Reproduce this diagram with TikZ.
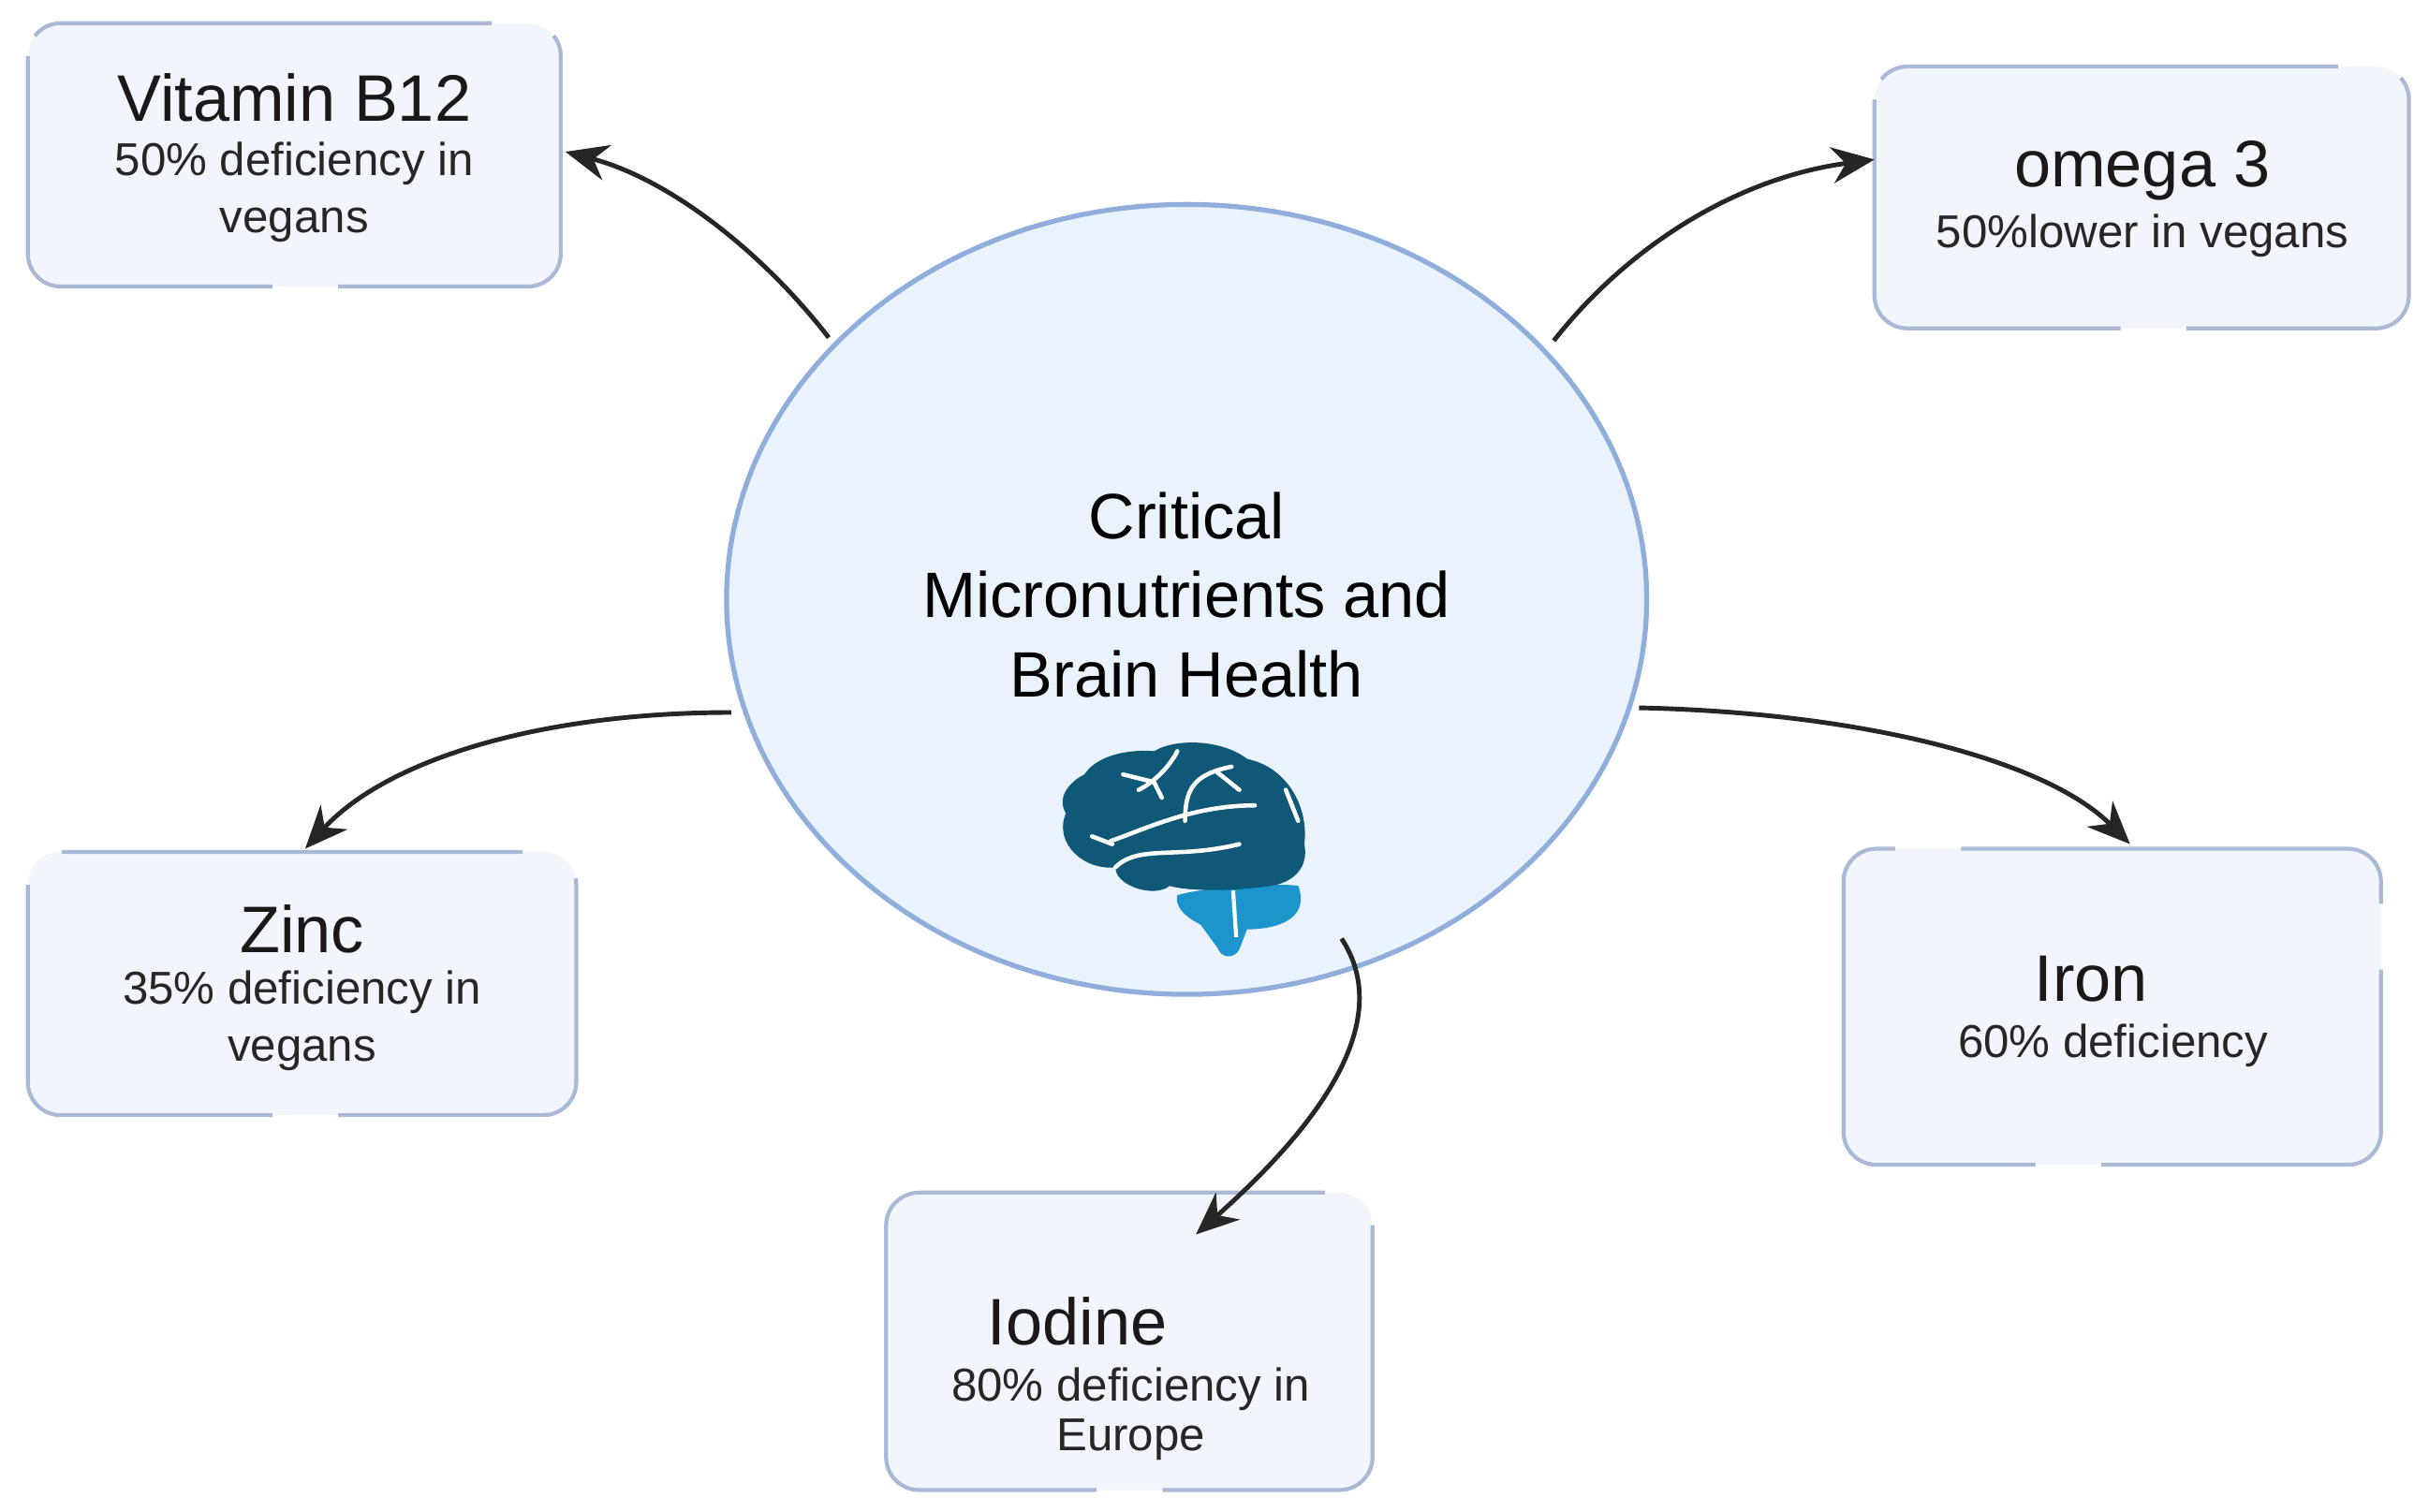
\documentclass[tikz,border=0pt]{standalone}
\usepackage{fontspec}
\setmainfont{Liberation Sans}
\usetikzlibrary{arrows.meta}
\definecolor{boxfill}{HTML}{F2F5FB}
\definecolor{boxline}{HTML}{A9B9D6}
\definecolor{ellfill}{HTML}{EAF2FC}
\definecolor{ellline}{HTML}{8FAEDB}
\definecolor{braind}{HTML}{0F5878}
\definecolor{brainl}{HTML}{1C95CD}
\begin{document}
\begin{tikzpicture}[x=0.016543cm,y=-0.016543cm,
  box/.style={draw=boxline,line width=1.2pt,fill=boxfill,rounded corners=10pt,dash pattern=on 140pt off 20pt},
  ttl/.style={font=\fontsize{20}{24}\selectfont,text=black!90},
  sub/.style={font=\fontsize{14}{17.5}\selectfont,text=black!85,align=center},
  arr/.style={-{Stealth[length=13pt,width=11pt]},line width=1.4pt,draw=black!85}]
\useasboundingbox (0,0) rectangle (1568,976);
% boxes
\path[box] (18,15) rectangle (362,185);
\path[box] (1210,43) rectangle (1555,212);
\path[box] (18,550) rectangle (372,720);
\path[box] (1190,548) rectangle (1537,752);
\path[box] (572,770) rectangle (886,962);
% ellipse
\draw[ellline,fill=ellfill,line width=1.5pt] (766,387) ellipse [x radius=297,y radius=255];
\node[font=\fontsize{19.5}{24}\selectfont,align=center] (c) at (766,384) {Critical\\Micronutrients and\\Brain Health};
% texts
\node[ttl] (b12) at (190,63) {Vitamin B12};
\node[sub] (b12s) at (190,124) {50\% deficiency in\\vegans};
\node[ttl] (om) at (1383,110) {omega 3};
\node[sub] (oms) at (1383,152) {50\%lower in vegans};
\node[ttl] (zn) at (195,600) {Zinc};
\node[sub] (zns) at (195,659) {35\% deficiency in\\vegans};
\node[ttl] (fe) at (1350,632) {Iron};
\node[sub] (fes) at (1364,675) {60\% deficiency};
\node[ttl,anchor=west] (io) at (630,853) {Iodine};
\node[sub,font=\fontsize{14}{15}\selectfont] (ios) at (730,913) {80\% deficiency in\\Europe};
% connectors
\coordinate (a1) at (535,218); \coordinate (e1) at (365,98);
\coordinate (a2) at (1003,220); \coordinate (e2) at (1210,103);
\coordinate (a3) at (472,460); \coordinate (e3) at (197,548);
\coordinate (a4) at (1058,457); \coordinate (e4) at (1375,545);
\coordinate (a5) at (866,606); \coordinate (e5) at (772,797);
\draw[arr] (a1) .. controls (490,160) and (430,115) .. (e1);
\draw[arr] (a2) .. controls (1050,160) and (1120,115) .. (e2);
\draw[arr] (a3) .. controls (350,460) and (250,490) .. (e3);
\draw[arr] (a4) .. controls (1200,460) and (1320,490) .. (e4);
\draw[arr] (a5) .. controls (895,650) and (870,710) .. (e5);
% brain
\fill[brainl] (760,578) .. controls (780,572) and (830,570) .. (838,572) .. controls (845,590) and (830,600) .. (805,600) -- (800,613) .. controls (796,620) and (788,618) .. (786,612) -- (775,597) .. controls (765,592) and (758,585) .. (760,578) -- cycle;
\draw[white,line width=1.2pt] (796,575) -- (798,605);
\fill[braind] (700,500) .. controls (710,485) and (735,484) .. (745,485) .. controls (760,476) and (790,478) .. (805,490) .. controls (830,495) and (845,520) .. (842,545) .. controls (845,560) and (835,570) .. (820,572) .. controls (800,575) and (770,576) .. (755,572) .. controls (745,580) and (720,572) .. (720,560) .. controls (700,562) and (680,545) .. (688,525) .. controls (682,515) and (690,505) .. (700,500) -- cycle;
\draw[white,line width=1.3pt,line cap=round] (717,543) .. controls (740,535) and (770,520) .. (810,520);
\draw[white,line width=1.3pt,line cap=round] (720,560) .. controls (735,545) and (760,555) .. (800,545);
\draw[white,line width=1.3pt,line cap=round] (765,530) .. controls (765,510) and (770,500) .. (795,495);
\draw[white,line width=1.3pt,line cap=round] (785,498) -- (800,510);
\draw[white,line width=1.3pt,line cap=round] (735,510) .. controls (745,505) and (755,495) .. (760,485);
\draw[white,line width=1.3pt,line cap=round] (725,500) -- (745,505) -- (750,515);
\draw[white,line width=1.3pt,line cap=round] (705,540) -- (718,545);
\draw[white,line width=1.3pt,line cap=round] (830,510) -- (838,530);
\end{tikzpicture}
\end{document}
